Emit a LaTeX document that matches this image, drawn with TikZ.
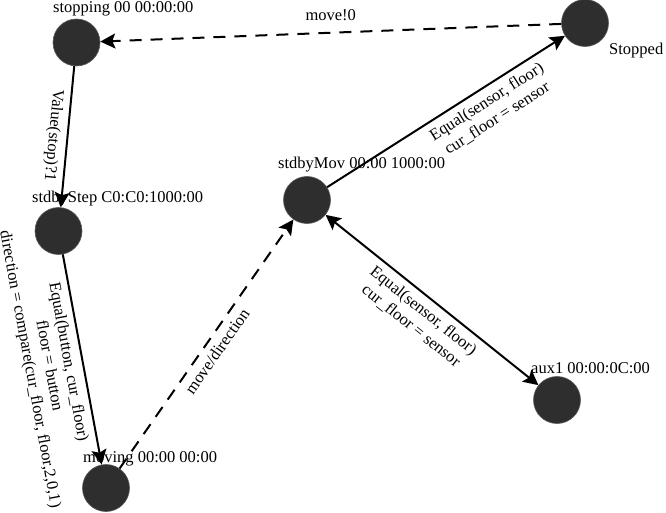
\documentclass[tikz,border=0pt]{standalone}
\usepackage{fontspec}
\setmainfont{Liberation Serif}
\usetikzlibrary{arrows.meta}

\begin{document}
\begin{tikzpicture}[x=1pt,y=-1pt,
  state/.style={circle,fill=black!82,draw=black!65,line width=0.6pt,minimum size=47pt,inner sep=0pt},
  statename/.style={anchor=base west,inner sep=0pt,font=\fontsize{16.5}{19}\selectfont},
  trans/.style={line width=2pt,-{Stealth[length=15pt,width=15pt,inset=3pt]}},
  call/.style={trans,dash pattern=on 12pt off 9pt},
  guard/.style={font=\fontsize{16.5}{19.5}\selectfont,align=center,inner sep=6pt}]
  \useasboundingbox (0,0) rectangle (666,513);
  % states
  \node[state] (stopping) at (76.5,42.5) {};
  \node[state] (stopped) at (585,23) {};
  \node[state] (stdbystep) at (58.5,231) {};
  \node[state] (moving) at (106,488) {};
  \node[state] (stdbymov) at (307,200) {};
  \node[state] (aux) at (557,400) {};
  % state names
  \node[statename] (stoppingname) at (53,13) {stopping 00 00:00:00};
  \node[statename] (stoppedname) at (609,55) {Stopped};
  \node[statename] (stdbystepname) at (32,203) {stdbyStep C0:C0:1000:00};
  \node[statename] (movingname) at (83,462) {moving 00:00 00:00};
  \node[statename] (stdbymovname) at (278,169) {stdbyMov 00:00 1000:00};
  \node[statename] (auxname) at (531,373) {aux1 00:00:0C:00};
  % transitions
  \draw[call] (stopped) -- node[guard,above=5pt] {move!0} (stopping);
  \draw[trans] (stopping) -- node[guard,sloped,allow upside down,below] {Value(stop)?1} (stdbystep);
  \draw[trans] (stdbystep) -- node[guard,sloped,below] {Equal(button, cur\_floor)\\floor = button\\direction = compare(cur\_floor, floor,2,0,1)} (moving);
  \draw[call] (moving) -- node[guard,sloped,below] {move/direction} (stdbymov);
  \draw[trans] (stdbymov) -- node[guard,sloped,below,pos=0.64] {Equal(sensor, floor)\\cur\_floor = sensor} (stopped);
  \draw[trans,{Stealth[length=15pt,width=15pt,inset=3pt]}-{Stealth[length=15pt,width=15pt,inset=3pt]}] (stdbymov) -- node[guard,sloped,below] {Equal(sensor, floor)\\cur\_floor = sensor} (aux);
\end{tikzpicture}
\end{document}
